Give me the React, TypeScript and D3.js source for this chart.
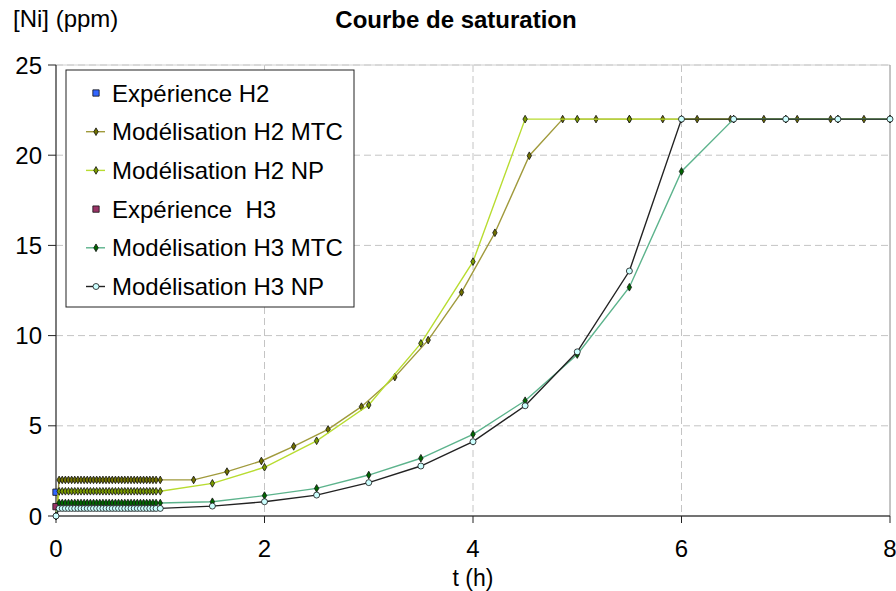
import { line, scaleLinear, symbol, symbolDiamond, symbolSquare } from 'd3'

// Courbe de saturation — [Ni] en fonction du temps, modèles MTC / NP pour H2 et H3.

const W = 896
const H = 591
const FONT = '"Liberation Sans", Arial, sans-serif'
const FS = 24

const X_TICKS = [0, 2, 4, 6, 8]
const Y_TICKS = [0, 5, 10, 15, 20, 25]

// palier initial : pas très serré entre 0 et 1 h (les marqueurs se chevauchent)
const PLATEAU_T = [
  0.03, 0.06, 0.09, 0.12, 0.15, 0.18, 0.21, 0.24, 0.27, 0.3, 0.33, 0.36, 0.39, 0.42, 0.45, 0.48, 0.51,
  0.54, 0.57, 0.6, 0.63, 0.66, 0.69, 0.72, 0.75, 0.78, 0.81, 0.84, 0.87, 0.9, 0.93, 0.96, 1.0,
]

const H2_MTC_LEVEL = 2.0
const H2_MTC_T = [1.32, 1.64, 1.97, 2.28, 2.61, 2.93, 3.25, 3.57, 3.89, 4.21, 4.54, 4.86, 5.18, 5.5, 5.82, 6.15, 6.47, 6.79, 7.11, 7.43, 7.75]
const H2_MTC_V = [2.0, 2.46, 3.05, 3.86, 4.8, 6.06, 7.7, 9.75, 12.4, 15.7, 19.97, 22, 22, 22, 22, 22, 22, 22, 22, 22, 22]

const H2_NP_LEVEL = 1.37
const H2_NP_T = [1.5, 2, 2.5, 3, 3.5, 4, 4.5, 5, 5.5, 6, 6.5, 7, 7.5, 8]
const H2_NP_V = [1.81, 2.7, 4.17, 6.15, 9.57, 14.1, 22, 22, 22, 22, 22, 22, 22, 22]

const H3_MTC_LEVEL = 0.72
const H3_MTC_T = [1.5, 2, 2.5, 3, 3.5, 4, 4.5, 5, 5.5, 6, 6.5, 7, 7.5, 8]
const H3_MTC_V = [0.79, 1.13, 1.53, 2.27, 3.2, 4.53, 6.39, 8.95, 12.68, 19.1, 22, 22, 22, 22]

const H3_NP_LEVEL = 0.42
const H3_NP_T = [1.5, 2, 2.5, 3, 3.5, 4, 4.5, 5, 5.5, 6, 6.5, 7, 7.5, 8]
const H3_NP_V = [0.55, 0.79, 1.16, 1.85, 2.77, 4.12, 6.11, 9.1, 13.58, 22, 22, 22, 22, 22]

const EXP_H2 = [{ t: 0, v: 1.32 }]
const EXP_H3 = [{ t: 0, v: 0.52 }]

type Pt = { t: number; v: number }

function buildSeries(level: number, ts: number[], vs: number[]): Pt[] {
  return [
    { t: 0, v: 0 },
    ...PLATEAU_T.map((t) => ({ t, v: level })),
    ...ts.map((t, i) => ({ t, v: vs[i] })),
  ]
}

type Marker = 'square' | 'diamond' | 'circle'

interface SeriesDef {
  name: string
  data: Pt[]
  line: string | null
  fill: string
  marker: Marker
}

const SERIES: SeriesDef[] = [
  { name: 'Expérience H2', data: EXP_H2, line: null, fill: '#3366ff', marker: 'square' },
  { name: 'Modélisation H2 MTC', data: buildSeries(H2_MTC_LEVEL, H2_MTC_T, H2_MTC_V), line: '#a09a3c', fill: '#707000', marker: 'diamond' },
  { name: 'Modélisation H2 NP', data: buildSeries(H2_NP_LEVEL, H2_NP_T, H2_NP_V), line: '#b8dc30', fill: '#7a9a00', marker: 'diamond' },
  { name: 'Expérience  H3', data: EXP_H3, line: null, fill: '#993366', marker: 'square' },
  { name: 'Modélisation H3 MTC', data: buildSeries(H3_MTC_LEVEL, H3_MTC_T, H3_MTC_V), line: '#5cb38c', fill: '#006600', marker: 'diamond' },
  { name: 'Modélisation H3 NP', data: buildSeries(H3_NP_LEVEL, H3_NP_T, H3_NP_V), line: '#222222', fill: '#ccffff', marker: 'circle' },
]

const PLOT = { left: 56, right: 890, top: 65, bottom: 516 }

const diamondPath = symbol().type(symbolDiamond).size(17)()
const squarePath = symbol().type(symbolSquare).size(40)()

function MarkerShape({ kind, fill, x, y }: { kind: Marker; fill: string; x: number; y: number }) {
  if (kind === 'circle') {
    return <circle cx={x} cy={y} r={3} fill={fill} stroke="#111" strokeWidth={0.8} />
  }
  const d = kind === 'square' ? squarePath : diamondPath
  return <path d={d ?? ''} transform={`translate(${x},${y})`} fill={fill} stroke="#111" strokeWidth={0.8} />
}

export default function App() {
  const x = scaleLinear().domain([0, 8]).range([PLOT.left, PLOT.right])
  const y = scaleLinear().domain([0, 25]).range([PLOT.bottom, PLOT.top])
  const path = line<Pt>()
    .x((d) => x(d.t))
    .y((d) => y(d.v))

  const LEG = { x: 66, y: 70, w: 288, h: 237, row0: 93, rowH: 38.7 }

  return (
    <svg
      width={W}
      height={H}
      viewBox={`0 0 ${W} ${H}`}
      style={{ position: 'absolute', left: 0, top: 0, background: '#fff' }}
      fontFamily={FONT}
    >
      <rect x={0} y={0} width={W} height={H} fill="#fff" />

      {/* grille */}
      {Y_TICKS.filter((v) => v > 0).map((v) => (
        <line key={`gy${v}`} x1={PLOT.left} x2={PLOT.right} y1={y(v)} y2={y(v)} stroke="#c4c4c4" strokeWidth={1} strokeDasharray="7,4" />
      ))}
      {X_TICKS.filter((v) => v > 0 && v < 8).map((v) => (
        <line key={`gx${v}`} x1={x(v)} x2={x(v)} y1={PLOT.top} y2={PLOT.bottom} stroke="#c4c4c4" strokeWidth={1} strokeDasharray="7,4" />
      ))}
      <line x1={PLOT.left} x2={PLOT.right} y1={PLOT.top} y2={PLOT.top} stroke="#d0d0d0" />
      <line x1={PLOT.right} x2={PLOT.right} y1={PLOT.top} y2={PLOT.bottom} stroke="#8a8a8a" />

      {/* axes */}
      <line x1={PLOT.left} x2={PLOT.left} y1={PLOT.top} y2={PLOT.bottom} stroke="#444" strokeWidth={1.4} />
      <line x1={PLOT.left} x2={PLOT.right} y1={PLOT.bottom} y2={PLOT.bottom} stroke="#444" strokeWidth={1.4} />
      {Y_TICKS.map((v) => (
        <g key={`ty${v}`}>
          <line x1={PLOT.left - 8} x2={PLOT.left} y1={y(v)} y2={y(v)} stroke="#222" />
          <text x={42} y={y(v)} dy="0.36em" textAnchor="end" fontSize={FS}>
            {v}
          </text>
        </g>
      ))}
      {X_TICKS.map((v) => (
        <g key={`tx${v}`}>
          <line x1={x(v)} x2={x(v)} y1={PLOT.bottom} y2={PLOT.bottom + 7} stroke="#222" />
          <text x={x(v)} y={557} textAnchor="middle" fontSize={FS}>
            {v}
          </text>
        </g>
      ))}

      {/* courbes */}
      {SERIES.map((s) => (
        <g key={s.name}>
          {s.line && <path d={path(s.data) ?? ''} fill="none" stroke={s.line} strokeWidth={1.4} />}
          {s.data.map((d, i) => (
            <MarkerShape key={i} kind={s.marker} fill={s.fill} x={x(d.t)} y={y(d.v)} />
          ))}
        </g>
      ))}

      {/* titres */}
      <text x={13} y={27} fontSize={FS}>
        [Ni] (ppm)
      </text>
      <text x={456} y={28} textAnchor="middle" fontSize={FS} fontWeight="bold">
        Courbe de saturation
      </text>
      <text x={473} y={586} textAnchor="middle" fontSize={23}>
        t (h)
      </text>

      {/* légende */}
      <rect x={LEG.x} y={LEG.y} width={LEG.w} height={LEG.h} fill="#fff" stroke="#222" strokeWidth={1} />
      {SERIES.map((s, i) => {
        const cy = LEG.row0 + i * LEG.rowH
        return (
          <g key={`leg${i}`}>
            {s.line && <line x1={86} x2={105} y1={cy} y2={cy} stroke={s.line} strokeWidth={1.4} />}
            <MarkerShape kind={s.marker} fill={s.fill} x={96} y={cy} />
            <text x={112} y={cy} dy="0.36em" fontSize={FS} style={{ whiteSpace: 'pre' }}>
              {s.name}
            </text>
          </g>
        )
      })}
    </svg>
  )
}
